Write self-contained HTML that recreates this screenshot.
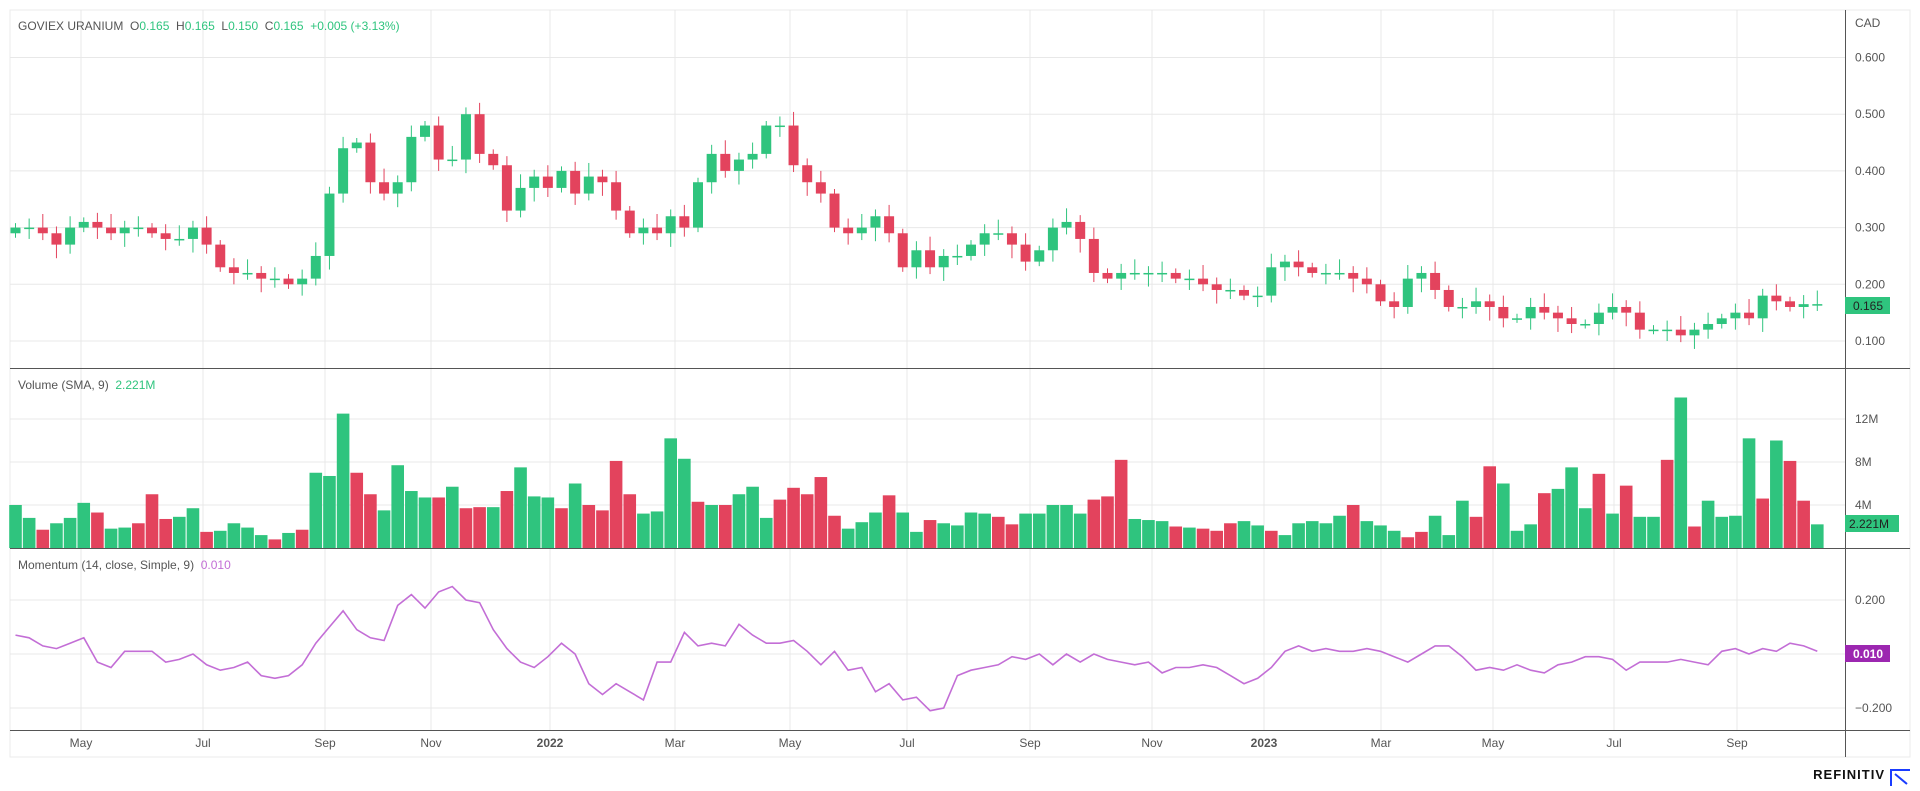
<!DOCTYPE html>
<html><head><meta charset="utf-8"><style>
body{margin:0;background:#fff;width:1920px;height:786px;overflow:hidden;font-family:"Liberation Sans",sans-serif}
text{white-space:pre}
</style></head><body>
<svg id="s" width="1920" height="786" xmlns="http://www.w3.org/2000/svg" font-family="Liberation Sans, sans-serif"></svg>
<script>
const C=[0.30,0.30,0.29,0.27,0.30,0.31,0.30,0.29,0.30,0.30,0.29,0.28,0.28,0.30,0.27,0.23,0.22,0.22,0.21,0.21,0.20,0.21,0.25,0.36,0.44,0.45,0.38,0.36,0.38,0.46,0.48,0.42,0.42,0.50,0.43,0.41,0.33,0.37,0.39,0.37,0.40,0.36,0.39,0.38,0.33,0.29,0.30,0.29,0.32,0.30,0.38,0.43,0.40,0.42,0.43,0.48,0.48,0.41,0.38,0.36,0.30,0.29,0.30,0.32,0.29,0.23,0.26,0.23,0.25,0.25,0.27,0.29,0.29,0.27,0.24,0.26,0.30,0.31,0.28,0.22,0.21,0.22,0.22,0.22,0.22,0.21,0.21,0.20,0.19,0.19,0.18,0.18,0.23,0.24,0.23,0.22,0.22,0.22,0.21,0.20,0.17,0.16,0.21,0.22,0.19,0.16,0.16,0.17,0.16,0.14,0.14,0.16,0.15,0.14,0.13,0.13,0.15,0.16,0.15,0.12,0.12,0.12,0.11,0.12,0.13,0.14,0.15,0.14,0.18,0.17,0.16,0.165,0.165];
let V="4.0g,2.8g,1.7r,2.3g,2.8g,4.2g,3.3r,1.8g,1.9g,2.3r,5.0r,2.7r,2.9g,3.7g,1.5r,1.6g,2.3g,1.9g,1.2g,0.8r,1.4g,1.7r,7.0g,6.7g,12.5g,7.0r,5.0r,3.5g,7.7g,5.3g,4.7g,4.7r,5.7g,3.7r,3.8r,3.8g,5.3r,7.5g,4.8g,4.7g,3.7r,6.0g,4.0r,3.5r,8.1r,5.0r,3.2g,3.4g,10.2g,8.3g,4.3r,4.0g,4.0r,5.0g,5.7g,2.8g,4.5r,5.6r,5.0r,6.6r,3.0r,1.8g,2.4g,3.3g,4.9r,3.3g,1.5g,2.6r,2.3g,2.1g,3.3g,3.2g,2.9r,2.2r,3.2g,3.2g,4.0g,4.0g,3.2g,4.5r,4.8r,8.2r,2.7g,2.6g,2.5g,2.0r,1.9g,1.8r,1.6r,2.3r,2.5g,2.1g,1.6r,1.2g,2.3g,2.5g,2.3g,3.0g,4.0r,2.5g,2.1g,1.6g,1.0r,1.5r,3.0g,1.2g,4.4g,2.9r,7.6r,6.0g,1.6g,2.2g,5.1r,5.5g,7.5g,3.7g,6.9r,3.2g,5.8r,2.9g,2.9g,8.2r,14.0g,2.0r,4.4g,2.9g,3.0g,10.2g,4.6r,10.0g,8.1r,4.4r,2.2g".split(",");
const M=[0.07,0.06,0.03,0.02,0.04,0.06,-0.03,-0.05,0.01,0.01,0.01,-0.03,-0.02,0.00,-0.04,-0.06,-0.05,-0.03,-0.08,-0.09,-0.08,-0.04,0.04,0.10,0.16,0.09,0.06,0.05,0.18,0.22,0.17,0.23,0.25,0.20,0.19,0.09,0.02,-0.03,-0.05,-0.01,0.04,0.00,-0.11,-0.15,-0.11,-0.14,-0.17,-0.03,-0.03,0.08,0.03,0.04,0.03,0.11,0.07,0.04,0.04,0.05,0.01,-0.04,0.01,-0.06,-0.05,-0.14,-0.11,-0.17,-0.16,-0.21,-0.20,-0.08,-0.06,-0.05,-0.04,-0.01,-0.02,0.00,-0.04,0.00,-0.03,0.00,-0.02,-0.03,-0.04,-0.03,-0.07,-0.05,-0.05,-0.04,-0.05,-0.08,-0.11,-0.09,-0.05,0.01,0.03,0.01,0.02,0.01,0.01,0.02,0.01,-0.01,-0.03,0.00,0.03,0.03,-0.01,-0.06,-0.05,-0.06,-0.04,-0.06,-0.07,-0.04,-0.03,-0.01,-0.01,-0.02,-0.06,-0.03,-0.03,-0.03,-0.02,-0.03,-0.04,0.01,0.02,0.00,0.02,0.01,0.04,0.03,0.01];
const G="#2fc47e",R="#e3435d",GR="#e8e8e8";
let h='';
const py=p=>341-(p-0.1)*567, vy=v=>548-v*10.75, my=m=>654-m*270;
h+=`<rect x="10" y="10" width="1900" height="747" fill="#fff" stroke="#ebebeb"/>`;
const xs=[[81,'May'],[203,'Jul'],[325,'Sep'],[431,'Nov'],[550,'2022'],[675,'Mar'],[790,'May'],[907,'Jul'],[1030,'Sep'],[1152,'Nov'],[1264,'2023'],[1381,'Mar'],[1493,'May'],[1614,'Jul'],[1737,'Sep']];
xs.forEach(([x,t])=>{h+=`<line x1="${x}" y1="10" x2="${x}" y2="730" stroke="${GR}"/><text x="${x}" y="747" font-size="12" fill="#555" text-anchor="middle" ${/^\d/.test(t)?'font-weight="bold"':''}>${t}</text>`});
[0.6,0.5,0.4,0.3,0.2,0.1].forEach(p=>{const y=py(p);h+=`<line x1="10" y1="${y}" x2="1845" y2="${y}" stroke="${GR}"/><text x="1855" y="${y+4}" font-size="12" fill="#555">${p.toFixed(3)}</text>`});
h+=`<text x="1855" y="27" font-size="12" fill="#555">CAD</text>`;
[[12,'12M'],[8,'8M'],[4,'4M']].forEach(([v,t])=>{const y=vy(v);h+=`<line x1="10" y1="${y}" x2="1845" y2="${y}" stroke="${GR}"/><text x="1855" y="${y+4}" font-size="12" fill="#555">${t}</text>`});
[[0.2,'0.200'],[0,''],[-0.2,'\u22120.200']].forEach(([m,t])=>{const y=my(m);h+=`<line x1="10" y1="${y}" x2="1845" y2="${y}" stroke="${GR}"/><text x="1855" y="${y+4}" font-size="12" fill="#555">${t}</text>`});
const sp=13.65,x0=15.5,N=C.length;
C.forEach((c,i)=>{const o=i?C[i-1]:0.29;const x=x0+i*sp;const up=c>=o;const col=up?G:R;
 const hi=Math.max(o,c)+0.008+((i*7)%5)*0.004, lo=Math.min(o,c)-0.008-((i*3)%5)*0.004;
 h+=`<line x1="${x}" y1="${py(hi)}" x2="${x}" y2="${py(lo)}" stroke="${col}"/>`;
 const t=py(Math.max(o,c)),b=py(Math.min(o,c));h+=`<rect x="${x-5}" y="${t}" width="10" height="${Math.max(1.5,b-t)}" fill="${col}"/>`;});
V=V.slice(V.length-N);
V.forEach((s,i)=>{const v=parseFloat(s),x=x0+i*sp;const y=vy(v);h+=`<rect x="${x-6.3}" y="${y}" width="12.6" height="${548-y}" fill="${s.endsWith('g')?G:R}"/>`});
h+=`<polyline fill="none" stroke="#c36ed6" stroke-width="1.6" points="${M.slice(0,N).map((m,i)=>(x0+i*sp).toFixed(1)+','+my(m).toFixed(1)).join(' ')}"/>`;
h+=`<line x1="10" y1="368.5" x2="1910" y2="368.5" stroke="#555"/><line x1="10" y1="548.5" x2="1910" y2="548.5" stroke="#555"/><line x1="10" y1="730.5" x2="1910" y2="730.5" stroke="#555"/><line x1="1845.5" y1="10" x2="1845.5" y2="757" stroke="#555"/>`;
h+=`<rect x="1845" y="297" width="45" height="17" fill="${G}"/><text x="1853" y="310" font-size="12" fill="#222">0.165</text>`;
h+=`<rect x="1845" y="515" width="54" height="17" fill="${G}"/><text x="1849" y="528" font-size="12" fill="#222">2.221M</text>`;
h+=`<rect x="1845" y="645" width="45" height="17" fill="#9c27b0"/><text x="1853" y="658" font-size="12" fill="#fff" font-weight="bold">0.010</text>`;
h+=`<text x="18" y="30" font-size="12" fill="#555">GOVIEX URANIUM  O<tspan fill="${G}">0.165</tspan>  H<tspan fill="${G}">0.165</tspan>  L<tspan fill="${G}">0.150</tspan>  C<tspan fill="${G}">0.165</tspan>  <tspan fill="${G}">+0.005 (+3.13%)</tspan></text>`;
h+=`<text x="18" y="389" font-size="12" fill="#555">Volume (SMA, 9)  <tspan fill="${G}">2.221M</tspan></text>`;
h+=`<text x="18" y="569" font-size="12" fill="#555">Momentum (14, close, Simple, 9)  <tspan fill="#c36ed6">0.010</tspan></text>`;
h+=`<text x="1885" y="779" font-size="13" font-weight="bold" fill="#111" text-anchor="end" letter-spacing="1">REFINITIV</text>`;
h+=`<path d="M1891 786 V770 H1910 M1895 774 L1907 784" stroke="#1a3cff" stroke-width="2" fill="none"/>`;
document.getElementById('s').innerHTML=h;
</script>
</body></html>
